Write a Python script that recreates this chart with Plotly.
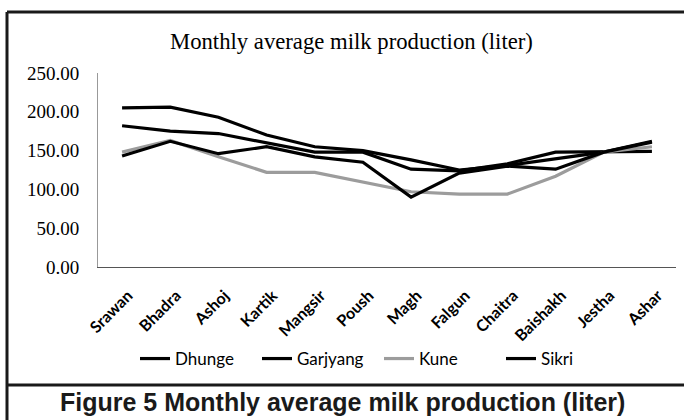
import plotly.graph_objects as go

months = ["Srawan", "Bhadra", "Ashoj", "Kartik", "Mangsir", "Poush", "Magh",
          "Falgun", "Chaitra", "Baishakh", "Jestha", "Ashar"]
dhunge = [205, 206, 193, 170, 155, 150, 138, 125, 131, 140, 148, 162]
garjyang = [182, 175, 172, 160, 148, 148, 126, 124, 133, 148, 148, 149]
kune = [148, 163, 142, 122, 122, 109, 97, 94, 94, 117, 148, 155]
sikri = [143, 162, 146, 155, 142, 135, 90, 121, 130, 126, 148, 161]

series = [("Dhunge", dhunge, "#000000"), ("Garjyang", garjyang, "#000000"),
          ("Kune", kune, "#9c9c9c"), ("Sikri", sikri, "#000000")]

W, H = 684, 420
L, R, T, B = 98, 676, 73, 267  # plot area in pixels


def px(x):
    return (x - L) / (R - L)


def py(y):
    return (B - y) / (B - T)


fig = go.Figure()
for name, vals, col in series:
    fig.add_trace(go.Scatter(x=months, y=vals, name=name, mode="lines",
                             line=dict(color=col, width=3.2)))

fig.update_layout(
    width=W, height=H,
    margin=dict(l=L, r=W - R, t=T, b=H - B),
    paper_bgcolor="white", plot_bgcolor="white",
    showlegend=True,
    legend=dict(orientation="h", x=px(135), xanchor="left", y=py(359), yanchor="middle",
                font=dict(family="Lato", size=17, color="#000000"),
                entrywidth=77, entrywidthmode="pixels",
                itemwidth=30, tracegroupgap=0, bgcolor="rgba(0,0,0,0)"),
    xaxis=dict(type="category", range=[-0.5, 11.5], showgrid=False, showline=True,
               linecolor="#555555", linewidth=1, ticks="", tickangle=-45,
               ticklabelstandoff=12, ticklabelshift=6,
               tickfont=dict(family="Lato", size=16, color="#000000", weight="bold")),
    yaxis=dict(range=[0, 250], dtick=50, tickformat=".2f", showgrid=False, showline=True,
               linecolor="#999999", linewidth=1, ticks="", ticklen=0,
               ticklabelstandoff=14,
               tickfont=dict(family="Liberation Serif", size=19, color="#000000"),
               zeroline=False),
    shapes=[
        dict(type="line", xref="paper", yref="paper", x0=px(7), x1=px(690), y0=py(12), y1=py(12),
             line=dict(color="#1a1a1a", width=3)),
        dict(type="line", xref="paper", yref="paper", x0=px(7), x1=px(7), y0=py(12), y1=py(425),
             line=dict(color="#1a1a1a", width=3)),
        dict(type="line", xref="paper", yref="paper", x0=px(7), x1=px(690), y0=py(385), y1=py(385),
             line=dict(color="#1a1a1a", width=3)),
    ],
    annotations=[
        dict(text="Monthly average milk production (liter)", xref="paper", yref="paper",
             x=px(351), y=py(42), xanchor="center", yanchor="middle", showarrow=False,
             font=dict(family="Liberation Serif", size=22.7, color="#000000")),
        dict(text="<b>Figure 5 Monthly average milk production (liter)</b>", xref="paper", yref="paper",
             x=px(342), y=py(402), xanchor="center", yanchor="middle", showarrow=False,
             font=dict(family="Liberation Sans", size=25, color="#1a1a1a")),
    ],
)

fig.write_html("out.html")
